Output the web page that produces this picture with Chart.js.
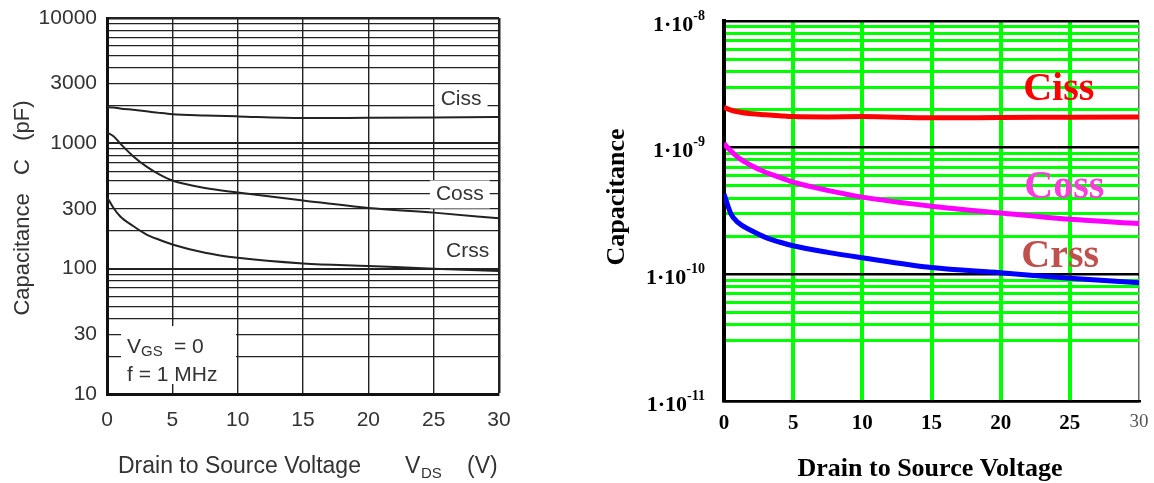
<!DOCTYPE html>
<html>
<head>
<meta charset="utf-8">
<script src="https://cdn.jsdelivr.net/npm/chart.js@4.4.1/dist/chart.umd.min.js"></script>
<style>
  body { margin: 0; background: #fff; width: 1154px; height: 483px; overflow: hidden; position: relative; }
  .panel { position: absolute; top: 0; height: 483px; }
</style>
</head>
<body>
<div class="panel" style="left:0;width:560px"><canvas id="leftChart"></canvas></div>
<div class="panel" style="left:580px;width:574px"><canvas id="rightChart"></canvas></div>
<script>
// drain-source voltage samples (V)
var vds = [0, 0.5, 1, 2, 3, 4, 5, 7.5, 10, 15, 20, 25, 30];

// datasheet curves, pF
var cissPF = [1950, 1930, 1900, 1850, 1800, 1750, 1710, 1670, 1640, 1590, 1600, 1610, 1620];
var cossPF = [1220, 1140, 1000, 790, 655, 565, 505, 440, 405, 350, 305, 280, 252];
var crssPF = [372, 305, 262, 219, 188, 170, 156, 134, 122, 110, 105, 100, 96];

// model curves, F
var cissF = [2.08e-9, 1.98e-9, 1.92e-9, 1.85e-9, 1.82e-9, 1.79e-9, 1.76e-9, 1.75e-9, 1.76e-9, 1.72e-9, 1.73e-9, 1.74e-9, 1.75e-9];
var cossF = [1.08e-9, 9.4e-10, 8.4e-10, 7.2e-10, 6.4e-10, 5.85e-10, 5.35e-10, 4.6e-10, 4.07e-10, 3.45e-10, 3.05e-10, 2.72e-10, 2.52e-10];
var crssF = [4.3e-10, 3.0e-10, 2.57e-10, 2.21e-10, 1.96e-10, 1.8e-10, 1.68e-10, 1.49e-10, 1.35e-10, 1.13e-10, 1.03e-10, 9.3e-11, 8.6e-11];

// axis ticks
var leftDecades = [10, 100, 1000];
var leftTickLabels = [10, 30, 100, 300, 1000, 3000, 10000];
var rightDecades = [1e-11, 1e-10, 1e-9];
var rightTickValues = [1e-11, 1e-10, 1e-9, 1e-8];
var rightTickExps = ['-11', '-10', '-9', '-8'];

var SANS = '"Liberation Sans", Arial, sans-serif';
var SERIF = '"Liberation Serif", "Times New Roman", serif';

function pts(ys) {
  return vds.map(function (v, i) { return { x: v, y: ys[i] }; });
}

function sameLog(a, b) {
  return Math.abs(Math.log10(a) - Math.log10(b)) < 1e-6;
}

// 1..9 lines in every decade, plus the top one
function gridValues(decades, skip) {
  var out = [];
  decades.forEach(function (d) {
    for (var m = 1; m <= 9; m++) {
      var v = d * m;
      if (skip && skip.some(function (s) { return sameLog(s, v); })) continue;
      out.push(v);
    }
  });
  out.push(decades[decades.length - 1] * 10);
  return out;
}

var leftGrid = gridValues(leftDecades);
var rightGrid = gridValues(rightDecades, [2e-11]);

function isDecade(v) {
  var l = Math.log10(v);
  return Math.abs(l - Math.round(l)) < 1e-6;
}

// keep tick labels from pushing the plot area around
function fixedSize(prop, size) {
  return function (s) {
    s[prop] = size;
    s.paddingTop = 0;
    s.paddingBottom = 0;
    s.paddingLeft = 0;
    s.paddingRight = 0;
  };
}

// ---------- left: datasheet plot ----------
var leftTags = [
  { text: 'Ciss', v: 27.1, c: 2270 },
  { text: 'Coss', v: 27.0, c: 391 },
  { text: 'Crss', v: 27.6, c: 137 }
];

var leftNotes = {
  id: 'leftNotes',
  beforeDatasetsDraw: function (chart) {
    var ctx = chart.ctx, sx = chart.scales.x, sy = chart.scales.y, a = chart.chartArea;
    ctx.save();
    ctx.font = '21px ' + SANS;
    ctx.fillStyle = '#fff';
    leftTags.forEach(function (t) {
      var w = ctx.measureText(t.text).width + 12;
      ctx.fillRect(sx.getPixelForValue(t.v) - w / 2, sy.getPixelForValue(t.c) - 14, w, 28);
    });
    // test conditions box
    ctx.fillRect(a.left + 14, a.bottom - 68, 115, 58);
    ctx.restore();
  },
  afterDraw: function (chart) {
    var ctx = chart.ctx, sx = chart.scales.x, sy = chart.scales.y, a = chart.chartArea;
    ctx.save();
    ctx.fillStyle = '#333';
    ctx.textBaseline = 'middle';
    ctx.textAlign = 'center';
    ctx.font = '21px ' + SANS;
    leftTags.forEach(function (t) {
      ctx.fillText(t.text, sx.getPixelForValue(t.v), sy.getPixelForValue(t.c));
    });

    ctx.textBaseline = 'alphabetic';
    ctx.textAlign = 'left';
    var bx = a.left + 20, by = a.bottom - 41;
    ctx.font = '21px ' + SANS;
    ctx.fillText('V', bx, by);
    ctx.font = '15px ' + SANS;
    ctx.fillText('GS', bx + 14, by + 3);
    ctx.font = '21px ' + SANS;
    ctx.fillText('= 0', bx + 47, by);
    ctx.fillText('f = 1 MHz', bx, by + 28);

    // x title
    ctx.font = '23px ' + SANS;
    ctx.fillText('Drain to Source Voltage', 118, 473);
    ctx.fillText('V', 405, 473);
    ctx.fillText('(V)', 467, 473);
    ctx.font = '15px ' + SANS;
    ctx.fillText('DS', 421, 478);

    // y title
    ctx.translate(23, 208);
    ctx.rotate(-Math.PI / 2);
    ctx.textAlign = 'center';
    ctx.textBaseline = 'middle';
    ctx.font = '22px ' + SANS;
    ctx.fillText('Capacitance   C   (pF)', 0, 0);
    ctx.restore();
  }
};

function leftLine(ys) {
  return {
    data: pts(ys),
    borderColor: '#222',
    borderWidth: 2,
    pointRadius: 0,
    tension: 0.4,
    cubicInterpolationMode: 'monotone'
  };
}

new Chart(document.getElementById('leftChart'), {
  type: 'line',
  data: { datasets: [leftLine(cissPF), leftLine(cossPF), leftLine(crssPF)] },
  options: {
    responsive: true,
    maintainAspectRatio: false,
    animation: false,
    events: [],
    layout: { padding: { top: 18, right: 61, bottom: 0, left: 0 } },
    plugins: { legend: { display: false }, tooltip: { enabled: false } },
    scales: {
      x: {
        type: 'linear',
        min: 0,
        max: 30,
        afterFit: fixedSize('height', 89),
        ticks: { stepSize: 5, color: '#333', padding: 14, font: { family: SANS, size: 21 } },
        border: { color: '#111', width: 3 },
        grid: {
          drawTicks: false,
          color: function (c) { return c.tick && c.tick.value === 0 ? 'rgba(0,0,0,0)' : '#222'; },
          lineWidth: function (c) { return c.tick && c.tick.value === 30 ? 2.5 : 1.4; }
        }
      },
      y: {
        type: 'logarithmic',
        min: 10,
        max: 10000,
        afterFit: fixedSize('width', 107),
        afterBuildTicks: function (s) {
          s.ticks = leftGrid.map(function (v) { return { value: v }; });
        },
        ticks: {
          autoSkip: false,
          color: '#333',
          padding: 10,
          font: { family: SANS, size: 21 },
          callback: function (v) {
            return leftTickLabels.some(function (t) { return sameLog(t, v); }) ? String(Math.round(v)) : '';
          }
        },
        border: { color: '#111', width: 3 },
        grid: {
          drawTicks: false,
          color: '#222',
          lineWidth: function (c) {
            if (!c.tick) return 1.2;
            if (c.tick.value >= 10000) return 2.5;
            return isDecade(c.tick.value) ? 2 : 1.2;
          }
        }
      }
    }
  },
  plugins: [leftNotes]
});

// ---------- right: model plot ----------
var rightTags = [
  { text: 'Ciss', v: 24.2, c: 2.85e-9, color: '#ff0000' },
  { text: 'Coss', v: 24.6, c: 4.81e-10, color: '#ff3ddd' },
  { text: 'Crss', v: 24.3, c: 1.37e-10, color: '#c0504d' }
];

var rightNotes = {
  id: 'rightNotes',
  afterDatasetsDraw: function (chart) {
    var ctx = chart.ctx, sx = chart.scales.x, sy = chart.scales.y;
    ctx.save();
    ctx.textAlign = 'center';
    ctx.textBaseline = 'middle';
    ctx.font = 'bold 40px ' + SERIF;
    rightTags.forEach(function (t) {
      ctx.fillStyle = t.color;
      ctx.fillText(t.text, sx.getPixelForValue(t.v), sy.getPixelForValue(t.c));
    });
    ctx.restore();
  },
  afterDraw: function (chart) {
    var ctx = chart.ctx, sy = chart.scales.y;
    ctx.save();
    ctx.fillStyle = '#000';

    // decade labels 1·10^n with a raised exponent
    var right = chart.chartArea.left - 19;
    ctx.textAlign = 'right';
    ctx.textBaseline = 'middle';
    rightTickValues.forEach(function (v, i) {
      var y = sy.getPixelForValue(v);
      ctx.font = 'bold 14px ' + SERIF;
      var ew = ctx.measureText(rightTickExps[i]).width;
      ctx.fillText(rightTickExps[i], right, y - 5);
      ctx.font = 'bold 22px ' + SERIF;
      ctx.fillText('1·10', right - ew, y + 4);
    });

    ctx.textAlign = 'center';
    ctx.font = 'bold 26px ' + SERIF;
    ctx.fillText('Drain to Source Voltage', 350, 469);
    ctx.translate(37, 197);
    ctx.rotate(-Math.PI / 2);
    ctx.fillText('Capacitance', 0, 0);
    ctx.restore();
  }
};

function rightLine(ys, color) {
  return {
    data: pts(ys),
    borderColor: color,
    borderWidth: 5,
    pointRadius: 0,
    tension: 0.35,
    cubicInterpolationMode: 'monotone'
  };
}

new Chart(document.getElementById('rightChart'), {
  type: 'line',
  data: {
    datasets: [
      rightLine(cissF, '#ff0000'),
      rightLine(cossF, '#ff00ff'),
      rightLine(crssF, '#0000ff')
    ]
  },
  options: {
    responsive: true,
    maintainAspectRatio: false,
    animation: false,
    events: [],
    layout: { padding: { top: 21, right: 15, bottom: 0, left: 0 } },
    plugins: { legend: { display: false }, tooltip: { enabled: false } },
    scales: {
      x: {
        type: 'linear',
        min: 0,
        max: 30,
        afterFit: fixedSize('height', 82),
        ticks: {
          stepSize: 5,
          padding: 10,
          color: function (c) { return c.tick && c.tick.value === 30 ? '#555' : '#000'; },
          font: function (c) {
            return c.tick && c.tick.value === 30
              ? { family: SERIF, size: 19, weight: 'normal' }
              : { family: SERIF, size: 21, weight: 'bold' };
          }
        },
        border: { color: '#000', width: 2.5 },
        grid: {
          drawTicks: false,
          color: function (c) {
            if (!c.tick || c.tick.value === 0) return 'rgba(0,0,0,0)';
            return c.tick.value === 30 ? '#666' : '#00ff00';
          },
          lineWidth: function (c) { return c.tick && c.tick.value === 30 ? 1.5 : 4; }
        }
      },
      y: {
        type: 'logarithmic',
        min: 1e-11,
        max: 1e-8,
        afterFit: fixedSize('width', 144),
        afterBuildTicks: function (s) {
          s.ticks = rightGrid.map(function (v) { return { value: v }; });
        },
        ticks: { display: false, autoSkip: false },
        border: { color: '#000', width: 4 },
        grid: {
          drawTicks: false,
          color: function (c) { return c.tick && isDecade(c.tick.value) ? '#000' : '#00ff00'; },
          lineWidth: function (c) { return c.tick && isDecade(c.tick.value) ? 2.5 : 3; }
        }
      }
    }
  },
  plugins: [rightNotes]
});
</script>
</body>
</html>
